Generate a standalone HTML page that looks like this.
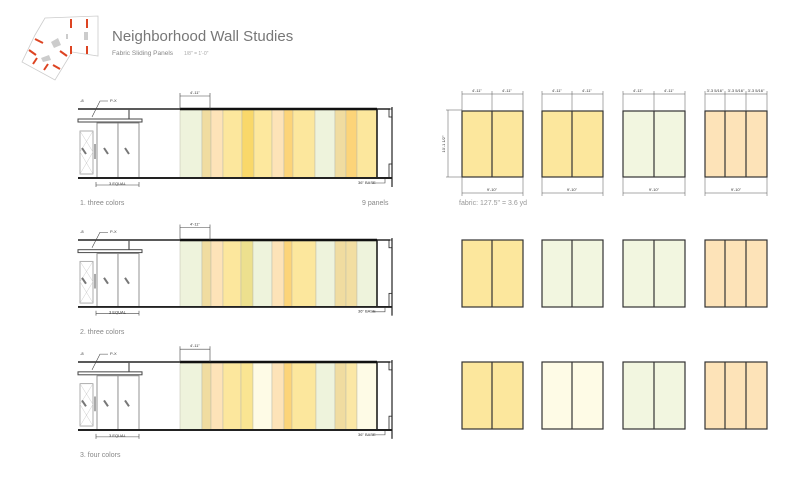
<!DOCTYPE html>
<html><head><meta charset="utf-8"><style>
html,body{margin:0;padding:0;background:#fff;}
svg{display:block;font-family:"Liberation Sans",sans-serif;}
</style></head><body>
<svg width="800" height="479" viewBox="0 0 800 479" xmlns="http://www.w3.org/2000/svg">
<defs>
<g id="door">
  <line x1="78" y1="0" x2="180" y2="0" stroke="#222" stroke-width="1.5"/>
  <line x1="129" y1="0" x2="129" y2="10" stroke="#555" stroke-width="1.2"/>
  <rect x="78" y="10" width="64" height="3" fill="#fff" stroke="#444" stroke-width="1"/>
  <rect x="80" y="22" width="13" height="43" fill="#fff" stroke="#999" stroke-width="0.8"/>
  <path d="M80 22 L93 43 L80 65 M93 22 L80 43 L93 65" stroke="#ccc" stroke-width="0.5" fill="none"/>
  <rect x="94" y="35" width="2" height="15" fill="#aaa"/>
  <rect x="97" y="14" width="21" height="55" fill="#fff" stroke="#888" stroke-width="0.9"/>
  <rect x="118" y="14" width="21" height="55" fill="#fff" stroke="#888" stroke-width="0.9"/>
  <line x1="82" y1="39" x2="86" y2="45" stroke="#777" stroke-width="2"/>
  <line x1="104" y1="39" x2="108" y2="45" stroke="#777" stroke-width="2"/>
  <line x1="125" y1="39" x2="129" y2="45" stroke="#777" stroke-width="2"/>
  <line x1="78" y1="69" x2="392" y2="69" stroke="#222" stroke-width="2"/>
  <line x1="180" y1="0" x2="377" y2="0" stroke="#111" stroke-width="2.5"/>
  <line x1="377" y1="0" x2="390" y2="0" stroke="#222" stroke-width="1.5"/>
  <line x1="392" y1="-2" x2="392" y2="78" stroke="#222" stroke-width="1.2"/>
  <rect x="389" y="0" width="3" height="8" fill="none" stroke="#222" stroke-width="0.8"/>
  <rect x="389" y="55" width="3" height="14" fill="none" stroke="#222" stroke-width="0.8"/>
  <path d="M96 73 V78 M139 73 V78 M96 76 H139" stroke="#444" stroke-width="0.6" fill="none"/>
  <text x="117.5" y="76" font-size="4" text-anchor="middle" fill="#333">3 EQUAL</text>
  <path d="M180 -16 V0 M210 -16 V0 M180 -13 H210" stroke="#444" stroke-width="0.6" fill="none"/>
  <text x="195" y="-15" font-size="4" text-anchor="middle" fill="#333">4'-11"</text>
  <text x="80" y="-7" font-size="4" fill="#333">-8</text>
  <text x="110" y="-7" font-size="4" fill="#333">P-X</text>
  <path d="M108 -8 H100 L92 8" stroke="#444" stroke-width="0.6" fill="none"/>
  <text x="358" y="75" font-size="4" fill="#333">36" BASE</text>
  <path d="M372 74 H385 V70" stroke="#444" stroke-width="0.6" fill="none"/>
</g>
</defs>

<g>
  <polygon points="45,18 98,16 98,56 72,52 55,80 22,62 35,35" fill="#fff" stroke="#ccc" stroke-width="0.8"/>
  <rect x="70" y="19" width="2" height="9" fill="#d42"/><rect x="86" y="19" width="2" height="9" fill="#d42"/>
  <rect x="70" y="46" width="2" height="8" fill="#d42"/><rect x="86" y="46" width="2" height="8" fill="#d42"/>
  <line x1="35" y1="39" x2="43" y2="43" stroke="#d42" stroke-width="2"/>
  <line x1="29" y1="50" x2="36" y2="55" stroke="#d42" stroke-width="2"/>
  <line x1="60" y1="51" x2="67" y2="56" stroke="#d42" stroke-width="2"/>
  <line x1="33" y1="64" x2="37" y2="58" stroke="#d42" stroke-width="2"/>
  <line x1="44" y1="70" x2="48" y2="64" stroke="#d42" stroke-width="2"/>
  <line x1="53" y1="65" x2="60" y2="69" stroke="#d42" stroke-width="2"/>
  <polygon points="51,42 58,38 61,45 54,48" fill="#ccc"/>
  <rect x="66" y="34" width="2" height="5" fill="#ccc"/>
  <rect x="84" y="32" width="4" height="8" fill="#ccc"/>
  <polygon points="41,58 49,55 51,60 43,62" fill="#ccc"/>
</g>
<text x="112" y="41" font-size="15" fill="#777">Neighborhood  Wall Studies</text>
<text x="112" y="55" font-size="6.5" fill="#888">Fabric Sliding Panels</text>
<text x="184" y="55" font-size="5" fill="#aaa">1/8" = 1'-0"</text>

<g stroke="#bba" stroke-width="0.5">
<rect x="180" y="110" width="22" height="68" fill="#eef3dc"/>
<rect x="202" y="110" width="9" height="68" fill="#f0dca0"/>
<rect x="211" y="110" width="12" height="68" fill="#fde3b8"/>
<rect x="223" y="110" width="19" height="68" fill="#fce79d"/>
<rect x="242" y="110" width="12" height="68" fill="#f9d86a"/>
<rect x="254" y="110" width="18" height="68" fill="#fde89e"/>
<rect x="272" y="110" width="12" height="68" fill="#fde3b8"/>
<rect x="284" y="110" width="9" height="68" fill="#fcd479"/>
<rect x="293" y="110" width="22" height="68" fill="#fce79d"/>
<rect x="315" y="110" width="20" height="68" fill="#eef3dc"/>
<rect x="335" y="110" width="11" height="68" fill="#f0dca0"/>
<rect x="346" y="110" width="11" height="68" fill="#fcd479"/>
<rect x="357" y="110" width="20" height="68" fill="#fce79d"/>
</g>
<line x1="377" y1="109" x2="377" y2="178" stroke="#111" stroke-width="1.5"/>
<use href="#door" transform="translate(0,109)"/>

<g stroke="#bba" stroke-width="0.5">
<rect x="180" y="241" width="22" height="66" fill="#eef3dc"/>
<rect x="202" y="241" width="9" height="66" fill="#f0dca0"/>
<rect x="211" y="241" width="12" height="66" fill="#fde3b8"/>
<rect x="223" y="241" width="18" height="66" fill="#fce79d"/>
<rect x="241" y="241" width="12" height="66" fill="#ede08e"/>
<rect x="253" y="241" width="19" height="66" fill="#eef3dc"/>
<rect x="272" y="241" width="12" height="66" fill="#fde3b8"/>
<rect x="284" y="241" width="8" height="66" fill="#fcd479"/>
<rect x="292" y="241" width="24" height="66" fill="#fce79d"/>
<rect x="316" y="241" width="19" height="66" fill="#eef3dc"/>
<rect x="335" y="241" width="11" height="66" fill="#f0dca0"/>
<rect x="346" y="241" width="11" height="66" fill="#f2dea2"/>
<rect x="357" y="241" width="20" height="66" fill="#eef3dc"/>
</g>
<line x1="377" y1="240" x2="377" y2="307" stroke="#111" stroke-width="1.5"/>
<use href="#door" transform="translate(0,240) scale(1,0.97)"/>

<g stroke="#bba" stroke-width="0.5">
<rect x="180" y="363" width="22" height="67" fill="#eef3dc"/>
<rect x="202" y="363" width="9" height="67" fill="#f0dca0"/>
<rect x="211" y="363" width="12" height="67" fill="#fde3b8"/>
<rect x="223" y="363" width="18" height="67" fill="#fce79d"/>
<rect x="241" y="363" width="12" height="67" fill="#fae592"/>
<rect x="253" y="363" width="19" height="67" fill="#fefbe6"/>
<rect x="272" y="363" width="12" height="67" fill="#fde3b8"/>
<rect x="284" y="363" width="8" height="67" fill="#fcd479"/>
<rect x="292" y="363" width="24" height="67" fill="#fce79d"/>
<rect x="316" y="363" width="19" height="67" fill="#eef3dc"/>
<rect x="335" y="363" width="11" height="67" fill="#f0dca0"/>
<rect x="346" y="363" width="11" height="67" fill="#fbe7a5"/>
<rect x="357" y="363" width="20" height="67" fill="#fefbe6"/>
</g>
<line x1="377" y1="362" x2="377" y2="430" stroke="#111" stroke-width="1.5"/>
<use href="#door" transform="translate(0,362) scale(1,0.985)"/>

<text x="80" y="205" font-size="7" fill="#888">1.   three colors</text>
<text x="362" y="205" font-size="7" fill="#888">9 panels</text>
<text x="80" y="334" font-size="7" fill="#888">2.   three colors</text>
<text x="80" y="457" font-size="7" fill="#888">3.   four colors</text>
<text x="459" y="205" font-size="7" fill="#999">fabric: 127.5" = 3.6 yd</text>

<g stroke="#333" stroke-width="1.2">
 <rect x="462" y="111" width="61" height="66" fill="#fce79d"/><line x1="492" y1="111" x2="492" y2="177"/>
 <rect x="542" y="111" width="61" height="66" fill="#fce79d"/><line x1="572" y1="111" x2="572" y2="177"/>
 <rect x="623" y="111" width="62" height="66" fill="#f2f6e0"/><line x1="654" y1="111" x2="654" y2="177"/>
 <rect x="705" y="111" width="62" height="66" fill="#fde3b8"/><line x1="725" y1="111" x2="725" y2="177"/><line x1="746" y1="111" x2="746" y2="177"/>
 <rect x="462" y="240" width="61" height="67" fill="#fce79d"/><line x1="492" y1="240" x2="492" y2="307"/>
 <rect x="542" y="240" width="61" height="67" fill="#f2f6e0"/><line x1="572" y1="240" x2="572" y2="307"/>
 <rect x="623" y="240" width="62" height="67" fill="#f2f6e0"/><line x1="654" y1="240" x2="654" y2="307"/>
 <rect x="705" y="240" width="62" height="67" fill="#fde3b8"/><line x1="725" y1="240" x2="725" y2="307"/><line x1="746" y1="240" x2="746" y2="307"/>
 <rect x="462" y="362" width="61" height="67" fill="#fce79d"/><line x1="492" y1="362" x2="492" y2="429"/>
 <rect x="542" y="362" width="61" height="67" fill="#fefbe6"/><line x1="572" y1="362" x2="572" y2="429"/>
 <rect x="623" y="362" width="62" height="67" fill="#f2f6e0"/><line x1="654" y1="362" x2="654" y2="429"/>
 <rect x="705" y="362" width="62" height="67" fill="#fde3b8"/><line x1="725" y1="362" x2="725" y2="429"/><line x1="746" y1="362" x2="746" y2="429"/>
</g>
<g stroke="#555" stroke-width="0.5" fill="none">
 <path d="M462 94 H523 M462 91 V111 M492 91 V111 M523 91 V111"/>
 <path d="M542 94 H603 M542 91 V111 M572 91 V111 M603 91 V111"/>
 <path d="M623 94 H685 M623 91 V111 M654 91 V111 M685 91 V111"/>
 <path d="M705 94 H767 M705 91 V111 M725 91 V111 M746 91 V111 M767 91 V111"/>
 <path d="M462 177 V196 M523 177 V196 M462 193 H523"/>
 <path d="M542 177 V196 M603 177 V196 M542 193 H603"/>
 <path d="M623 177 V196 M685 177 V196 M623 193 H685"/>
 <path d="M705 177 V196 M767 177 V196 M705 193 H767"/>
 <path d="M446 110 H462 M446 177 H462 M448 110 V177"/>
</g>
<g font-size="4" fill="#333" text-anchor="middle">
 <text x="477" y="92">4'-11"</text><text x="507" y="92">4'-11"</text>
 <text x="557" y="92">4'-11"</text><text x="587" y="92">4'-11"</text>
 <text x="638" y="92">4'-11"</text><text x="669" y="92">4'-11"</text>
 <text x="715" y="92">3'-3 5/16"</text><text x="736" y="92">3'-3 5/16"</text><text x="756" y="92">3'-3 5/16"</text>
 <text x="492" y="191">9'-10"</text><text x="572" y="191">9'-10"</text><text x="654" y="191">9'-10"</text><text x="736" y="191">9'-10"</text>
 <text x="0" y="0" transform="translate(445,144) rotate(-90)">10'-1 1/2"</text>
</g>
</svg>
</body></html>
